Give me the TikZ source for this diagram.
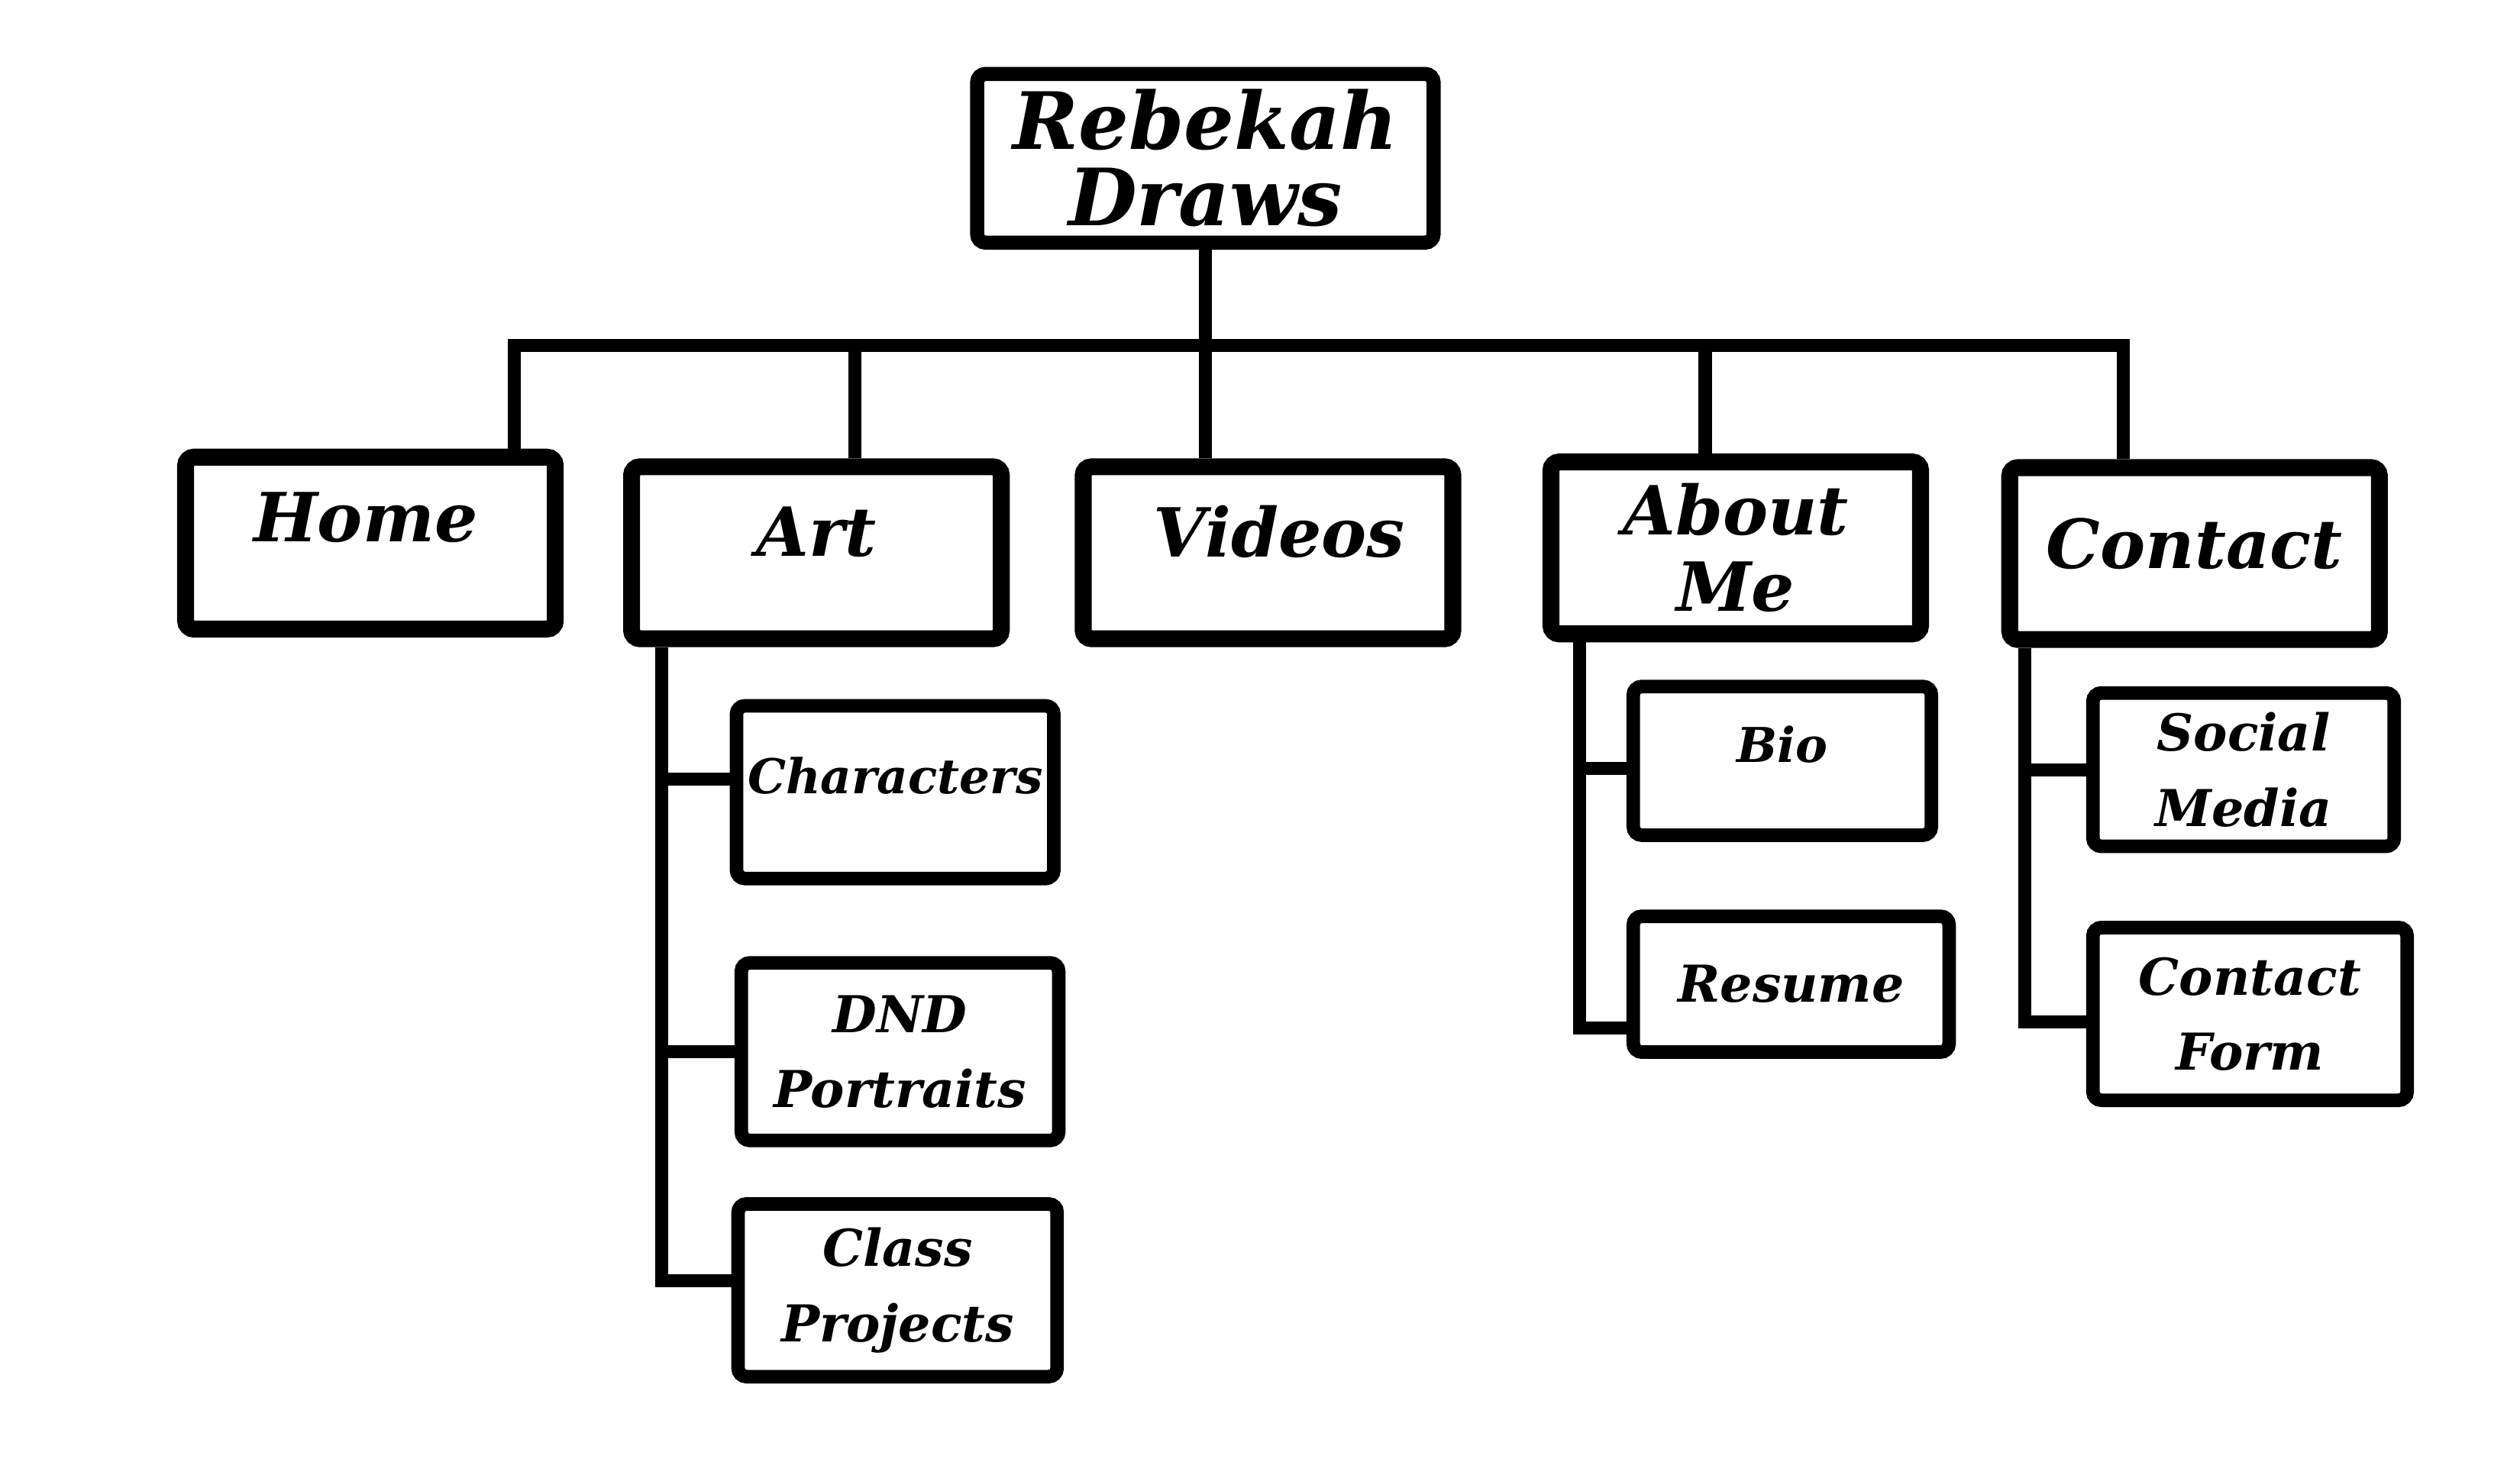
\documentclass[tikz,border=0pt]{standalone}
\usepackage{fontspec}
\setmainfont{DejaVu Serif}

\begin{document}
\begin{tikzpicture}[
    x=0.2mm, y=-0.2mm,
    every node/.style={
        draw,
        rounded corners=3pt,
        align=center,
        inner sep=2pt
    },
    topbox/.style={line width=5pt, minimum width=5.68cm, minimum height=2.1cm,
        font=\bfseries\itshape\fontsize{28}{27}\selectfont},
    mainbox/.style={line width=6pt, minimum width=4.6cm, minimum height=2.14cm,
        font=\bfseries\itshape\fontsize{24}{27}\selectfont},
    subbox/.style={line width=4.8pt, minimum width=3.95cm, minimum height=2.15cm,
        font=\bfseries\itshape\fontsize{18}{26.6}\selectfont},
    maintxt/.style={draw=none, font=\bfseries\itshape\fontsize{24}{27}\selectfont},
    subtxt/.style={draw=none, font=\bfseries\itshape\fontsize{17}{26.6}\selectfont},
    link/.style={line width=4.6pt}
]
\useasboundingbox (0,0) rectangle (1568,907.6);

% ------------------------
% Site title
% ------------------------
\node[topbox] (root) at (750,98.5) {Rebekah\\Draws};

% ------------------------
% Main menu
% ------------------------
\node[mainbox, label={[maintxt, name=homeTxt, yshift=3.2mm, xshift=-0.6mm]center:Home}] (home) at (230.5,338) {};
\node[mainbox, label={[maintxt, name=artTxt, yshift=2.6mm]center:Art}] (art) at (508,344) {};
\node[mainbox, label={[maintxt, name=videosTxt, yshift=2.6mm, xshift=1.4mm]center:Videos}] (videos) at (789,344) {};
\node[mainbox] (about) at (1080,341) {About\\Me};
\node[mainbox, label={[maintxt, name=contactTxt, yshift=1.2mm]center:Contact}] (contact) at (1365.5,344.5) {};

% ------------------------
% Sub pages
% ------------------------
\node[subbox, label={[subtxt, name=charsTxt, yshift=2mm]center:Characters}] (chars) at (557,493) {};
\node[subbox, minimum height=2.21cm] (dnd) at (560,654.5) {DND\\Portraits};
\node[subbox, minimum width=3.97cm] (class) at (558.5,803) {Class\\Projects};

\node[subbox, minimum width=3.71cm, minimum height=1.85cm, label={[subtxt, name=bioTxt, yshift=2mm]center:Bio}] (bio) at (1109,473.5) {};
\node[subbox, minimum width=3.93cm, minimum height=1.69cm] (resume) at (1114.5,612.5) {Resume};

\node[subbox, minimum width=3.75cm, minimum height=1.91cm] (social) at (1396,479) {Social\\Media};
\node[subbox, minimum width=3.91cm] (cform) at (1400,631) {Contact\\Form};

% ------------------------
% Top level links
% ------------------------
\coordinate (barL) at (320,215);
\coordinate (barR) at (1321,215);
\coordinate (dArt) at (532,215);
\coordinate (dAbout) at (1061,215);

\draw[link] (home.north -| barL) -- (barL) -- (barR) -- (contact.north -| barR);
\draw[link] (root.south) -- (root.south |- videos.north);
\draw[link] (dArt) -- (dArt |- art.north);
\draw[link] (dAbout) -- (dAbout |- about.north);

% ------------------------
% Art pages
% ------------------------
\coordinate (artTrunk) at ([xshift=4.8mm]art.south west);
\coordinate (charsIn) at ([yshift=1.6mm]chars.west);
\coordinate (classIn) at ([yshift=1.2mm]class.west);
\draw[link] (artTrunk) |- (classIn);
\draw[link] (charsIn) -- (charsIn -| artTrunk);
\draw[link] (dnd.west) -- (dnd.west -| artTrunk);

% ------------------------
% About pages
% ------------------------
\coordinate (aboutTrunk) at ([xshift=4.6mm]about.south west);
\coordinate (bioIn) at ([yshift=-0.9mm]bio.west);
\coordinate (resumeIn) at ([yshift=-5.5mm]resume.west);
\draw[link] (aboutTrunk) |- (resumeIn);
\draw[link] (bioIn) -- (bioIn -| aboutTrunk);

% ------------------------
% Contact pages
% ------------------------
\coordinate (contactTrunk) at ([xshift=2.9mm]contact.south west);
\coordinate (cformIn) at ([yshift=-1mm]cform.west);
\draw[link] (contactTrunk) |- (cformIn);
\draw[link] (social.west) -- (social.west -| contactTrunk);

\end{tikzpicture}
\end{document}
